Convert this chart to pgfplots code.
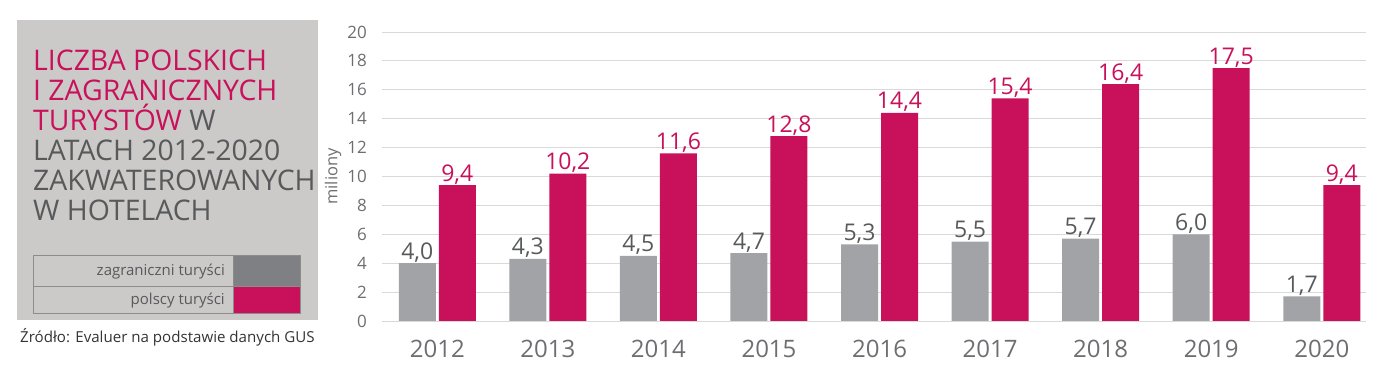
\documentclass[border=0pt]{standalone}
\usepackage{pgfplots}
\pgfplotsset{compat=1.18}
\usepackage{fontspec}
\setmainfont{Open Sans}
\definecolor{pinkc}{HTML}{C8115A}
\definecolor{barg}{HTML}{A2A3A7}
\definecolor{leggray}{HTML}{7F8084}
\definecolor{txtg}{HTML}{58595B}
\definecolor{tickg}{HTML}{6D6E71}
\definecolor{panel}{HTML}{CCCAC9}
\definecolor{gridc}{HTML}{D9D9D9}
\begin{document}
\begin{tikzpicture}
\useasboundingbox (0,0) rectangle (1384pt,374pt);
% left panel
\fill[panel] (17pt,54pt) rectangle (318pt,354pt);
\begin{scope}[every node/.style={anchor=base west, inner sep=0pt, font=\fontsize{28.4}{30}\selectfont}]
\node[text=pinkc] at (33pt,303.3pt) {LICZBA POLSKICH};
\node[text=pinkc] at (33pt,273.4pt) {I ZAGRANICZNYCH};
\node at (33pt,243.5pt) {\textcolor{pinkc}{TURYSTÓW}\ \textcolor{txtg}{W}};
\node[text=txtg] at (33pt,213.6pt) {LATACH 2012-2020};
\node[text=txtg] at (33pt,183.7pt) {ZAKWATEROWANYCH};
\node[text=txtg] at (33pt,153.8pt) {W HOTELACH};
\end{scope}
% legend table
\fill[leggray] (233pt,88pt) rectangle (300pt,119pt);
\fill[pinkc] (233pt,61pt) rectangle (300pt,88pt);
\draw[color=gray!90, line width=0.7pt] (33pt,61pt) rectangle (300pt,119pt);
\draw[color=gray!90, line width=0.7pt] (33pt,88pt) -- (300pt,88pt);
\draw[color=gray!90, line width=0.7pt] (233pt,61pt) -- (233pt,119pt);
\node[anchor=base east, inner sep=0pt, text=txtg, font=\fontsize{15}{18}\selectfont] at (225pt,98pt) {zagraniczni turyści};
\node[anchor=base east, inner sep=0pt, text=txtg, font=\fontsize{15}{18}\selectfont] at (225pt,69pt) {polscy turyści};
% source
\node[anchor=base west, inner sep=0pt, text=black!80, font=\fontsize{15.1}{18}\selectfont] at (20pt,31pt) {Źródło: Evaluer na podstawie danych GUS};
\begin{axis}[
  at={(382pt,53pt)}, anchor=south west,
  scale only axis, width=984pt, height=289pt,
  ybar=3pt, bar width=37pt,
  xmin=-0.5, xmax=8.4, ymin=0, ymax=20,
  enlargelimits=false,
  xtick=data,
  xticklabels={2012,2013,2014,2015,2016,2017,2018,2019,2020},
  ytick={0,2,...,20},
  axis line style={draw=none},
  major tick length=0pt,
  ymajorgrids, grid style={color=gridc, line width=0.9pt},
  /pgf/number format/assume math mode=true,
  yticklabel style={font=\fontsize{17}{20}\selectfont, text=tickg, inner sep=0pt, xshift=-15pt},
  xticklabel style={font=\fontsize{24}{28}\selectfont, text=tickg, inner sep=0pt, anchor=north, yshift=-19pt},
  ylabel={miliony},
  ylabel style={at={(axis description cs:-0.0498,0.5)}, anchor=center, font=\fontsize{16.5}{18}\selectfont, text=tickg},
  nodes near coords,
  nodes near coords style={anchor=base, inner sep=0pt, yshift=4pt, font=\fontsize{23}{26}\selectfont,
    /pgf/number format/use comma, /pgf/number format/fixed, /pgf/number format/fixed zerofill,
    /pgf/number format/precision=1, /pgf/number format/assume math mode=true},
]
\addplot[draw=none, fill=barg, every node near coord/.append style={text=txtg}] coordinates {
 (0,4.0) (1,4.3) (2,4.5) (3,4.7) (4,5.3) (5,5.5) (6,5.7) (7,6.0) (8,1.7)};
\addplot[draw=none, fill=pinkc, every node near coord/.append style={text=pinkc}] coordinates {
 (0,9.4) (1,10.2) (2,11.6) (3,12.8) (4,14.4) (5,15.4) (6,16.4) (7,17.5) (8,9.4)};
\end{axis}
\end{tikzpicture}
\end{document}
